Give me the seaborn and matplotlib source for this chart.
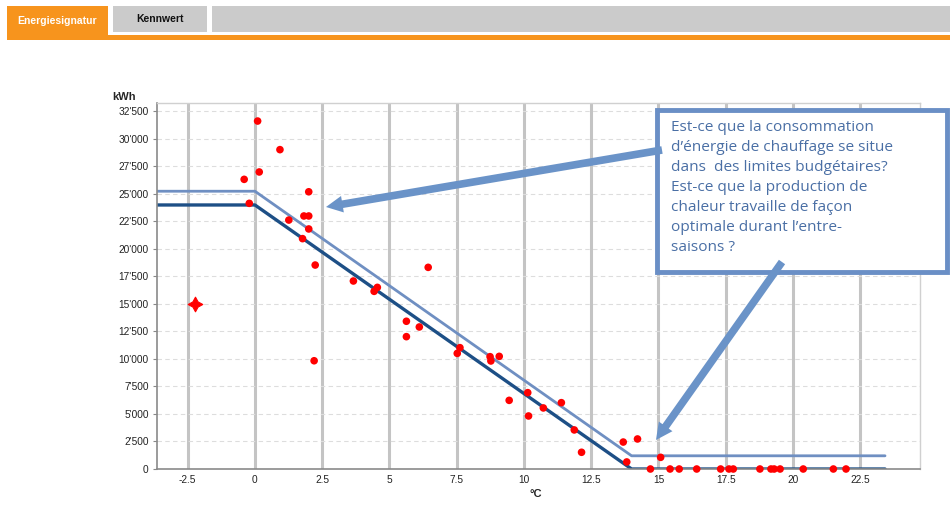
import matplotlib
matplotlib.use("Agg")
import numpy as np
import pandas as pd
import matplotlib.pyplot as plt
from matplotlib.patches import Rectangle
from matplotlib.ticker import FuncFormatter
import seaborn as sns

# measured points: outdoor temperature (°C) vs heating energy (kWh)
temp = [0.1, 0.93, 0.16, -0.4, 2.0, -0.21, 1.26, 1.82, 2.0, 2.0, 1.77, 2.24,
        3.66, 4.55, 4.43, 6.44, 5.63, 6.11, 5.63, 2.2,
        7.62, 7.52, 8.74, 8.77, 9.08, 9.45, 10.14, 10.17, 10.72, 11.39,
        11.87, 12.14, 13.69, 14.22, 13.82, 15.08,
        14.7, 15.43, 15.77, 16.42, 17.31, 17.62, 17.78, 18.77, 19.18, 19.3,
        19.52, 20.38, 21.5, 21.97]
energy = [31630, 29030, 27000, 26330, 25200, 24150, 22630, 23000, 23000, 21820, 20940, 18540,
          17090, 16510, 16150, 18330, 13430, 12910, 12030, 9840,
          11030, 10510, 10210, 9820, 10240, 6240, 6940, 4820, 5550, 6030,
          3550, 1520, 2450, 2730, 640, 1060,
          0, 0, 0, 0, 0, 0, 0, 0, 0, 0,
          0, 0, 0, 0]

# outlier (star marker)
star_temp = [-2.23]
star_energy = [15000]

# signature lines (breakpoints)
sig_temp = [-3.64, 0.0, 14.0, 23.42]
sig_base = [24000, 24000, 0, 0]
sig_limit = [25250, 25250, 1200, 1200]

xticks = [-2.5, 0, 2.5, 5, 7.5, 10, 12.5, 15, 17.5, 20, 22.5]
yticks = list(range(0, 32501, 2500))

note = ("Est-ce que la consommation\n"
        "d\u2019énergie de chauffage se situe\n"
        "dans  des limites budgétaires?\n"
        "Est-ce que la production de\n"
        "chaleur travaille de façon\n"
        "optimale durant l\u2019entre-\n"
        "saisons ?")

sns.set_style("white")
plt.rcParams['font.family'] = ['Liberation Sans', 'DejaVu Sans']

fig = plt.figure(figsize=(9.5, 5.05), dpi=100)
ax = fig.add_axes([157/950, 1-469/505, (920-157)/950, (469-103)/505])

pts = pd.DataFrame({"temp": temp, "energy": energy})
lines = pd.DataFrame({"temp": sig_temp + sig_temp,
                      "energy": sig_limit + sig_base,
                      "kind": ["limit"]*4 + ["base"]*4})

# grid
for x in xticks:
    ax.axvline(x, color="#c4c4c4", lw=2.2, zorder=0)
for y in yticks[1:]:
    ax.axhline(y, color="#dddddd", lw=0.8, ls=(0, (4, 3)), zorder=0)

sns.lineplot(data=lines, x="temp", y="energy", hue="kind",
             palette={"limit": "#6f8fc2", "base": "#1d4f86"},
             hue_order=["limit", "base"], legend=False, ax=ax,
             estimator=None, sort=False, zorder=2)
ax.lines[-2].set_linewidth(2.0)
ax.lines[-1].set_linewidth(2.4)

sns.scatterplot(data=pts, x="temp", y="energy", color="#ff0000", s=30,
                edgecolor="none", ax=ax, zorder=3, clip_on=False)
sns.scatterplot(x=star_temp, y=star_energy, color="#ff0000", s=110,
                marker=(4, 1, 0), edgecolor="#ff0000", ax=ax, zorder=3)

ax.set_xlim(-3.64, 24.72)
ax.set_ylim(0, 33270)
ax.set_xticks(xticks)
ax.set_yticks(yticks)
ax.set_xticklabels([f"{v:g}" for v in xticks])
ax.yaxis.set_major_formatter(FuncFormatter(lambda v, p: f"{v:,.0f}".replace(",", "'")))
ax.tick_params(axis="both", labelsize=7.3, colors="#222222", length=0, pad=4)
ax.tick_params(axis="y", length=3, color="#888888", left=True, pad=3)
ax.set_xlabel("")
ax.set_ylabel("")
for side in ["left", "bottom"]:
    ax.spines[side].set_color("#8a8a8a")
    ax.spines[side].set_linewidth(1.2)
for side in ["top", "right"]:
    ax.spines[side].set_color("#d0d0d0")
    ax.spines[side].set_linewidth(1.0)

fig.text(112/950, 1-97/505, "kWh", fontsize=8, fontweight="bold", va="center")
fig.text(536/950, 1-494/505, "°C", fontsize=8, fontweight="bold", ha="center", va="center")

# overlay in pixel coordinates: tab bar, callout box, arrows
ov = fig.add_axes([0, 0, 1, 1], zorder=5)
ov.set_xlim(0, 950)
ov.set_ylim(505, 0)
ov.axis("off")
ov.patch.set_alpha(0)

ov.add_patch(Rectangle((212, 6), 738, 26, color="#cbcbcb", lw=0))
ov.add_patch(Rectangle((113, 6), 94, 26, color="#cbcbcb", lw=0))
ov.add_patch(Rectangle((7, 35), 943, 5, color="#f7941d", lw=0))
ov.add_patch(Rectangle((7, 6), 101, 34, color="#f7941d", lw=0))
ov.text(57, 21, "Energiesignatur", color="white", fontsize=7.5, fontweight="bold",
        ha="center", va="center")
ov.text(160, 19, "Kennwert", color="#111111", fontsize=7.5, fontweight="bold",
        ha="center", va="center")

arrow_col = "#6a93c8"
ov.annotate("", xy=(326, 207), xytext=(662, 150),
            arrowprops=dict(arrowstyle="simple,head_width=1.2,head_length=1.2,tail_width=0.55",
                            color=arrow_col, lw=0, shrinkA=0, shrinkB=0))
ov.annotate("", xy=(656, 440), xytext=(782, 262),
            arrowprops=dict(arrowstyle="simple,head_width=1.2,head_length=1.2,tail_width=0.55",
                            color=arrow_col, lw=0, shrinkA=0, shrinkB=0))

ov.add_patch(Rectangle((657, 110), 290, 162, facecolor="white", edgecolor="#6a8fc6", lw=3.5))
ov.text(671, 120, note, color="#4a6fa5", fontsize=11.1, family=["Open Sans", "DejaVu Sans"],
        va="top", ha="left", linespacing=1.46)

fig.savefig("out.png", dpi=100)
